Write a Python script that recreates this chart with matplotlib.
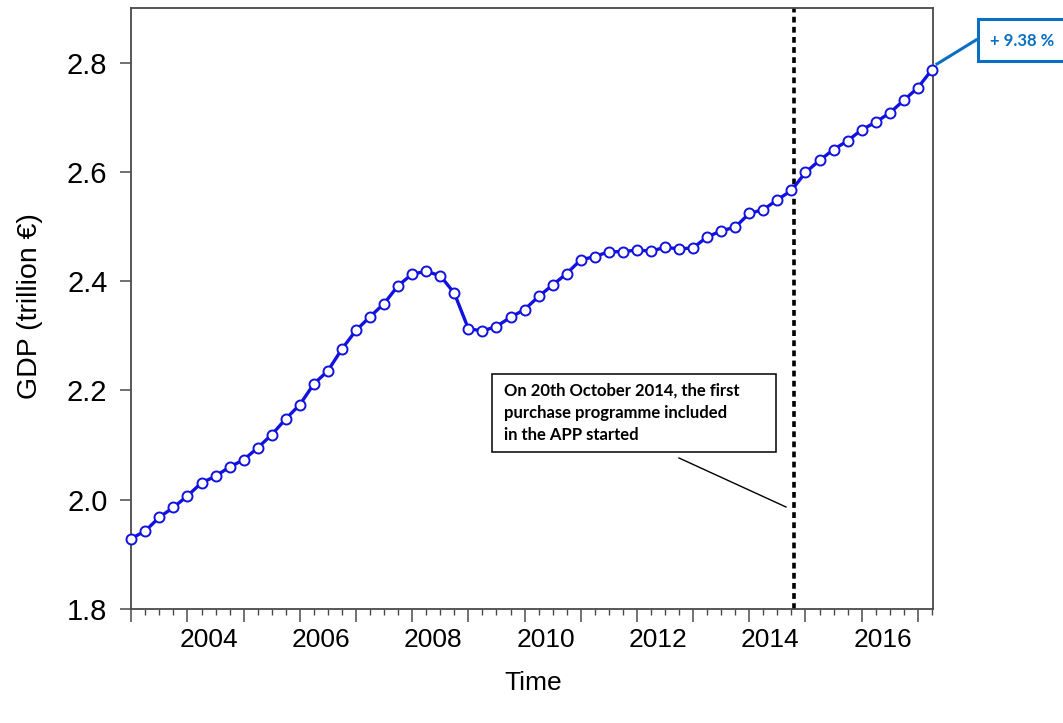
import matplotlib
matplotlib.use('Agg')
import matplotlib.pyplot as plt
from matplotlib.patches import Rectangle
from matplotlib.lines import Line2D
from matplotlib.ticker import MultipleLocator, FixedLocator
import matplotlib.transforms as mtransforms
import numpy as np

# quarterly GDP, Q1 2003 .. Q2 2017 (trillion EUR)
start_year = 2003.0
gdp = [1.929, 1.943, 1.968, 1.986, 2.007, 2.031, 2.043, 2.060,
       2.073, 2.095, 2.119, 2.148, 2.174, 2.212, 2.236, 2.276,
       2.310, 2.335, 2.359, 2.392, 2.413, 2.418, 2.410, 2.378,
       2.313, 2.309, 2.317, 2.334, 2.348, 2.372, 2.393, 2.414,
       2.439, 2.445, 2.454, 2.454, 2.457, 2.455, 2.462, 2.459,
       2.461, 2.481, 2.492, 2.499, 2.524, 2.531, 2.549, 2.566,
       2.599, 2.621, 2.641, 2.657, 2.677, 2.691, 2.708, 2.731,
       2.754, 2.787]
app_start = 2014.8          # 20 Oct 2014
label_years = [2004, 2006, 2008, 2010, 2012, 2014, 2016]
y_ticks = [1.8, 2.0, 2.2, 2.4, 2.6, 2.8]
note_text = "On 20th October 2014, the first\npurchase programme included\nin the APP started"
growth_text = "+ 9.38 %"

W, H = 1063, 723
fig = plt.figure(figsize=(W / 100, H / 100), dpi=100)
ax = fig.add_axes([131 / W, 1 - 609 / H, (933 - 131) / W, (609 - 8) / H])

def px(x, y):
    # pixel position (from top-left) -> figure fraction
    return x / W, 1 - y / H

t = start_year + np.arange(len(gdp)) / 4.0
ax.plot(t, gdp, color='#1212e0', lw=2.4, marker='o', ms=7.2,
        mfc='white', mec='#1212e0', mew=1.4, zorder=3, clip_on=False)
ax.axvline(app_start, color='black', lw=2.6, ls=(0, (1.6, 1.2)), zorder=2)

ax.set_xlim(start_year - 0.005, start_year + (len(gdp) - 1) / 4.0 + 0.02)
ax.set_ylim(1.8, 2.9)

# axis frame / ticks
for s in ax.spines.values():
    s.set_color('#4a4a4a')
    s.set_linewidth(1.3)
ax.yaxis.set_major_locator(FixedLocator(y_ticks))
ax.set_yticklabels(['%.1f' % v for v in y_ticks], fontsize=21,
                   family='Liberation Sans')
ax.tick_params(axis='y', length=8, width=1.1, color='#4a4a4a', pad=9)

years = np.arange(2003, 2018)
ax.xaxis.set_major_locator(FixedLocator(years))
ax.xaxis.set_minor_locator(MultipleLocator(0.25))
ax.set_xticklabels([str(y) if y in label_years else '' for y in years],
                   fontsize=19, family='Liberation Sans')
ax.tick_params(axis='x', which='major', length=9, width=1.1, color='#4a4a4a', pad=5)
ax.tick_params(axis='x', which='minor', length=4.5, width=1.0, color='#4a4a4a')
# labels sit a bit to the right of the year tick in the original
shift = mtransforms.ScaledTranslation(0.21, 0, fig.dpi_scale_trans)
for lab in ax.get_xticklabels():
    lab.set_transform(lab.get_transform() + shift)

fig.text(*px(533, 683), 'Time', fontsize=19, family='Liberation Sans',
         ha='center', va='center')
fig.text(*px(30, 306), 'GDP (trillion €)', fontsize=20.5, family='Liberation Sans',
         rotation=90, ha='center', va='center')

# note box about the APP
x0, y0 = px(492, 452)
x1, y1 = px(776, 374)
fig.add_artist(Rectangle((x0, y0), x1 - x0, y1 - y0, transform=fig.transFigure,
                         facecolor='white', edgecolor='black', lw=1.1, zorder=5))
fig.text(*px(504, 413), note_text, fontsize=12, fontweight='bold',
         family='Lato', ha='left', va='center', linespacing=1.5, zorder=6)
fig.add_artist(Line2D([px(679, 458)[0], px(786, 507)[0]],
                      [px(679, 458)[1], px(786, 507)[1]],
                      transform=fig.transFigure, color='black', lw=1.0))

# growth callout
blue = '#0a6fc2'
bx0, by0 = px(978, 61)
bx1, by1 = px(1075, 19)
fig.add_artist(Rectangle((bx0, by0), bx1 - bx0, by1 - by0, transform=fig.transFigure,
                         facecolor='white', edgecolor=blue, lw=2.2, zorder=5))
fig.text(*px(1022, 41), growth_text, fontsize=12, fontweight='bold',
         family='Lato', color=blue, ha='center', va='center', zorder=6)
fig.add_artist(Line2D([px(937, 64)[0], px(976, 40)[0]],
                      [px(937, 64)[1], px(976, 40)[1]],
                      transform=fig.transFigure, color=blue, lw=2.2))

fig.savefig('out.png', dpi=100)
